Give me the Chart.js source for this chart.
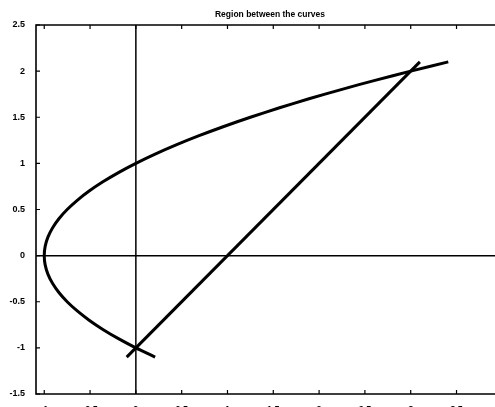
<!DOCTYPE html>
<html>
<head>
<meta charset="utf-8">
<script src="https://cdn.jsdelivr.net/npm/chart.js@4"></script>
<style>
  html, body { margin: 0; padding: 0; background: #fff; }
  #wrap { width: 495px; height: 407px; }
</style>
</head>
<body>
<div id="wrap"><canvas id="regionChart" width="495" height="407"></canvas></div>
<script>
// points: parabola (x, y)
const curveY = [-1.1,-1.0,-0.9,-0.8,-0.7,-0.6,-0.5,-0.4,-0.3,-0.2,-0.1,0,0.1,0.2,0.3,0.4,0.5,0.6,0.7,0.8,0.9,1.0,1.1,1.2,1.3,1.4,1.5,1.6,1.7,1.8,1.9,2.0,2.1];
const curveX = [0.21,0,-0.19,-0.36,-0.51,-0.64,-0.75,-0.84,-0.91,-0.96,-0.99,-1,-0.99,-0.96,-0.91,-0.84,-0.75,-0.64,-0.51,-0.36,-0.19,0,0.21,0.44,0.69,0.96,1.25,1.56,1.89,2.24,2.61,3.0,3.41];

// straight line end points
const lineX = [-0.1, 3.1];
const lineY = [-1.1, 2.1];

// tick labels
const xTicks = [-1,-0.5,0,0.5,1,1.5,2,2.5,3,3.5];
const yTicks = [-1.5,-1,-0.5,0,0.5,1,1.5,2,2.5];

const xRange = [-1.09, 3.92];
const yRange = [-1.5, 2.5];

const titleText = "Region between the curves";

function toPoints(xs, ys) {
    var pts = [];
    for (var i = 0; i < xs.length; i++) pts.push({x: xs[i], y: ys[i]});
    return pts;
}

const tickFont = {family: "'Liberation Sans', Arial, sans-serif", size: 9, weight: "bold"};

// box, inner ticks and title
const frame = {
    id: "frame",
    afterDraw(chart) {
        const ctx = chart.ctx;
        const a = chart.chartArea;
        const sx = chart.scales.x, sy = chart.scales.y;
        ctx.save();
        ctx.strokeStyle = "#000";
        ctx.lineWidth = 1.6;
        ctx.beginPath();
        ctx.moveTo(chart.width, a.top); ctx.lineTo(a.left, a.top);
        ctx.lineTo(a.left, a.bottom); ctx.lineTo(chart.width, a.bottom);
        ctx.stroke();
        ctx.lineWidth = 1.2;
        ctx.beginPath();
        xTicks.forEach(function(v) {
            const px = sx.getPixelForValue(v);
            ctx.moveTo(px, a.top); ctx.lineTo(px, a.top + 4);
            ctx.moveTo(px, a.bottom); ctx.lineTo(px, a.bottom - 4);
        });
        yTicks.forEach(function(v) {
            const py = sy.getPixelForValue(v);
            ctx.moveTo(a.left, py); ctx.lineTo(a.left + 4, py);
        });
        ctx.stroke();
        ctx.fillStyle = "#000";
        ctx.font = "bold 8.5px 'Liberation Sans', Arial, sans-serif";
        ctx.textAlign = "center";
        ctx.textBaseline = "alphabetic";
        ctx.fillText(titleText, 270, 17);
        ctx.restore();
    }
};

new Chart(document.getElementById("regionChart"), {
    type: "scatter",
    data: {
        datasets: [
            {
                label: "x = y^2 - 1",
                data: toPoints(curveX, curveY),
                showLine: true,
                borderColor: "#000",
                borderWidth: 3,
                pointRadius: 0,
                tension: 0.3
            },
            {
                label: "y = x - 1",
                data: toPoints(lineX, lineY),
                showLine: true,
                borderColor: "#000",
                borderWidth: 3,
                pointRadius: 0
            },
            {
                label: "x axis",
                data: toPoints(xRange, [0, 0]),
                showLine: true,
                borderColor: "#000",
                borderWidth: 1.5,
                pointRadius: 0
            },
            {
                label: "y axis",
                data: toPoints([0, 0], yRange),
                showLine: true,
                borderColor: "#000",
                borderWidth: 1.5,
                pointRadius: 0
            }
        ]
    },
    options: {
        responsive: false,
        animation: false,
        layout: {padding: {top: 25, right: 0, left: 0, bottom: 0}},
        plugins: {legend: {display: false}, title: {display: false}, tooltip: {enabled: false}},
        scales: {
            x: {
                type: "linear",
                min: xRange[0], max: xRange[1],
                grid: {display: false},
                border: {display: false},
                afterBuildTicks: function(scale) { scale.ticks = xTicks.map(function(v) { return {value: v}; }); },
                afterFit: function(scale) { scale.height = 13; },
                ticks: {color: "#000", font: tickFont, padding: 2, maxRotation: 0, autoSkip: false,
                        callback: function(v) { return String(v); }}
            },
            y: {
                type: "linear",
                min: yRange[0], max: yRange[1],
                grid: {display: false},
                border: {display: false},
                afterBuildTicks: function(scale) { scale.ticks = yTicks.map(function(v) { return {value: v}; }); },
                afterFit: function(scale) { scale.width = 36; },
                ticks: {color: "#000", font: tickFont, padding: 3, autoSkip: false,
                        callback: function(v) { return String(v); }}
            }
        }
    },
    plugins: [frame]
});
</script>
</body>
</html>
